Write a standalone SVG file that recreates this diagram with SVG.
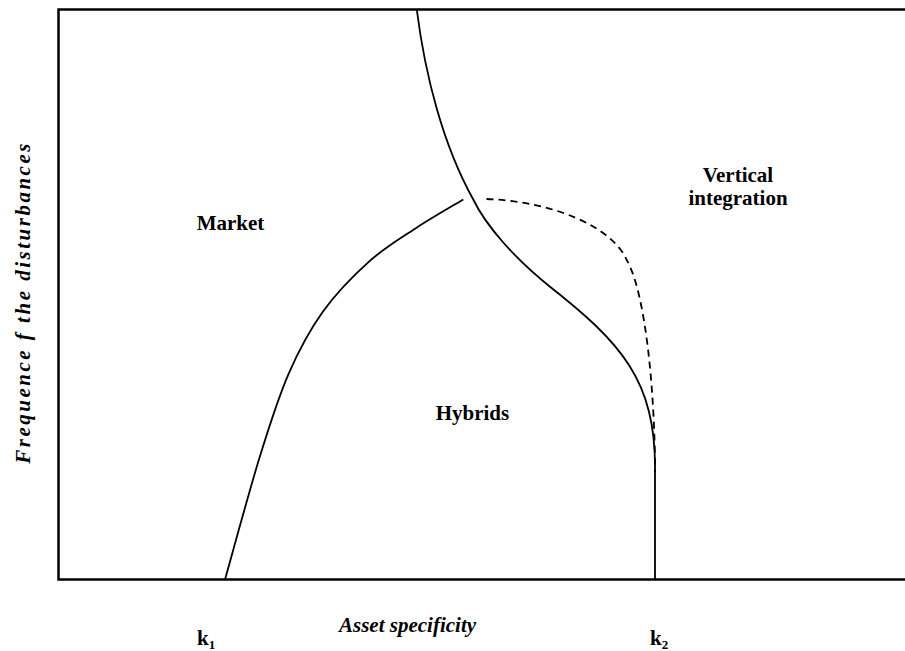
<svg xmlns="http://www.w3.org/2000/svg" width="905" height="651" viewBox="0 0 905 651">
<style>
.lbl{font-family:"Liberation Serif","Times New Roman",serif;font-size:21px;font-weight:bold;fill:#000}
.it{font-style:italic}
.ax{stroke:#000;stroke-width:2.5;fill:none}
.cv{stroke:#000;stroke-width:1.8;fill:none}
.ds{stroke:#000;stroke-width:1.8;fill:none;stroke-dasharray:7 5}
</style>
<rect width="905" height="651" fill="#fff"/>
<g id="axes">
<path class="ax" d="M905,9.5 H58.5 V579.5 H905"/>
</g>
<g id="connectors">
<path id="curve-steep" class="cv" d="M416.7,9 C425,75 443,145 473,199 C486,226 515,258.7 550,286.7 C620,342 656,380 655,470 L655,579.5"/>
<path id="curve-left" class="cv" d="M225,579.5 C230.8,559.1 249.1,491.3 259.7,457 C270.3,422.7 278.05,398.05 288.6,373.8 C299.15,349.55 309.6,330.2 323,311.5 C336.4,292.8 353.6,275.45 369,261.6 C384.4,247.75 399.8,238.75 415.5,228.4 C431.2,218.05 455.3,204.3 463.3,199.5"/>
<path id="curve-dashed" class="ds" d="M486.5,199 C550,201 612,226 626.7,260 C646.7,294.8 655,400 655,472"/>
</g>
<g id="market"><text class="lbl" x="196.7" y="229.5">Market</text></g>
<g id="hybrids"><text class="lbl" x="435.7" y="419.5">Hybrids</text></g>
<g id="vertical-integration">
<text class="lbl" x="738" y="181.7" text-anchor="middle">Vertical</text>
<text class="lbl" x="738" y="205" text-anchor="middle">integration</text>
</g>
<g id="x-axis-label"><text class="lbl it" x="339" y="632">Asset specificity</text></g>
<g id="y-axis-label"><text class="lbl it" transform="translate(29.5,302.4) rotate(-90)" text-anchor="middle" letter-spacing="2.5">Frequence f the disturbances</text></g>
<g id="k1"><text class="lbl" x="197" y="645">k<tspan font-size="13" dy="4">1</tspan></text></g>
<g id="k2"><text class="lbl" x="650" y="645">k<tspan font-size="13" dy="4">2</tspan></text></g>
</svg>
